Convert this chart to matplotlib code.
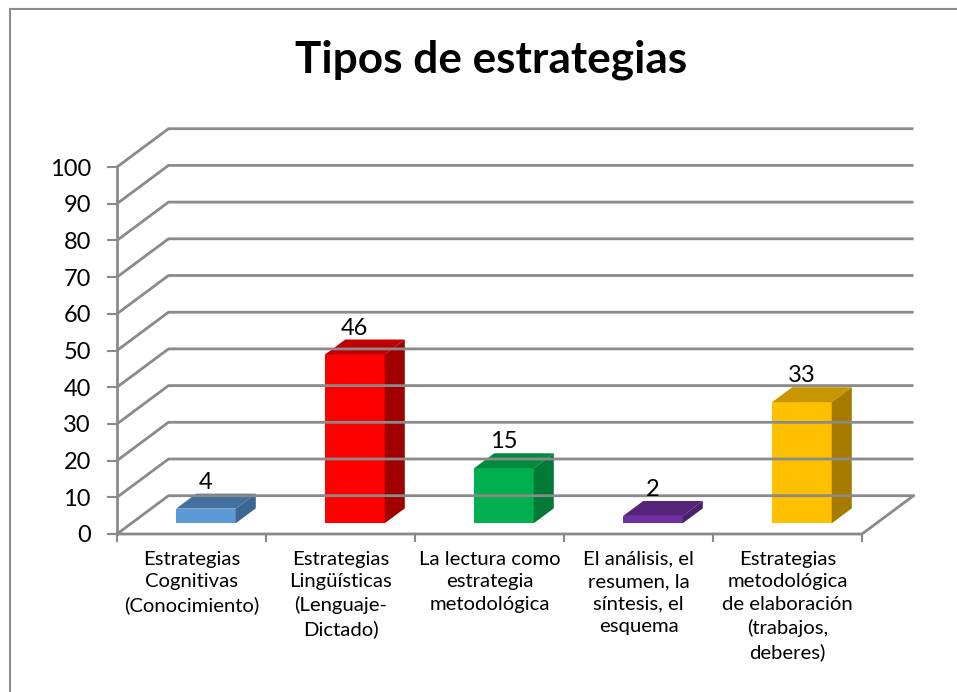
import matplotlib.pyplot as plt
from matplotlib.patches import Polygon, Rectangle

plt.rcParams['font.family'] = ['Lato', 'DejaVu Sans']

categories = ["Estrategias\nCognitivas\n(Conocimiento)",
              "Estrategias\nLingüísticas\n(Lenguaje-\nDictado)",
              "La lectura como\nestrategia\nmetodológica",
              "El análisis, el\nresumen, la\nsíntesis, el\nesquema",
              "Estrategias\nmetodológica\nde elaboración\n(trabajos,\ndeberes)"]
values = [4, 46, 15, 2, 33]
front_colors = ["#5B9BD5", "#FF0000", "#00B050", "#7030A0", "#FFC000"]
top_colors = ["#41719C", "#C00000", "#008A3E", "#55237A", "#C89600"]
side_colors = ["#3A6690", "#A00000", "#007A36", "#4A1F6B", "#A67C00"]
yticks = list(range(0, 101, 10))

# oblique 3D offset (depth 0 = front, 1 = back wall) in data units
DX = 51.5 / 149
DY = 38.3 / 3.67
d0, d1 = 0.28, 0.67
half_w = 0.2
grid_c = "#8a8a8a"


def proj(x, y, d):
    return x + d * DX, y + d * DY


fig = plt.figure(figsize=(9.57, 6.92), dpi=100)
ax = fig.add_axes([0, 0, 1, 1])
ax.set_xlim(-117 / 149, (957 - 117) / 149)
ax.set_ylim((534 - 692) / 3.67, 534 / 3.67)
ax.axis('off')

n = len(categories)

# walls / gridlines
for t in yticks:
    bx, by = proj(0, t, 1)
    ex, ey = proj(n, t, 1)
    ax.plot([0, bx, ex], [t, by, ey], color=grid_c, lw=2, solid_capstyle='butt')
    ax.plot([-0.06, 0], [t, t], color=grid_c, lw=1.5)
    ax.text(-0.1745, t, str(t), ha='right', va='center_baseline', fontsize=17)

ax.plot([0, 0], [0, 100], color=grid_c, lw=2)
rx, ry = proj(n, 0, 1)
ax.plot([0, n, rx], [0, 0, ry], color=grid_c, lw=2)
for i in range(n + 1):
    ax.plot([i, i], [0, -2], color=grid_c, lw=1.5)

# bars
for i, v in enumerate(values):
    c = i + 0.5
    xl, xr = c - half_w, c + half_w
    fl = proj(xl, 0, d0)
    fr = proj(xr, 0, d0)
    tl = proj(xl, v, d0)
    tr = proj(xr, v, d0)
    btl = proj(xl, v, d1)
    btr = proj(xr, v, d1)
    bbr = proj(xr, 0, d1)
    ax.add_patch(Polygon([fl, fr, tr, tl], closed=True, fc=front_colors[i], ec='none'))
    ax.add_patch(Polygon([tl, tr, btr, btl], closed=True, fc=top_colors[i], ec='none'))
    ax.add_patch(Polygon([fr, bbr, btr, tr], closed=True, fc=side_colors[i], ec='none'))
    lx, _ = proj(c, v, d0)
    _, ly = proj(c, v, d1)
    ax.text(lx, ly + 5 / 3.67, str(v), ha='center', va='baseline', fontsize=17)
    ax.text(c, -4.5, categories[i], ha='center', va='top', fontsize=14.6,
            linespacing=1.4)

fig.text(491 / 957, 1 - 60 / 692, "Tipos de estrategias", ha='center',
         va='center', fontsize=31.8, fontweight='bold')

fig.patches.append(Rectangle((10 / 957, -0.1), 1.2, 1.1 - 9 / 692, fill=False,
                             ec="#8c8c8c", lw=1.5, transform=fig.transFigure))

fig.savefig("out.png", dpi=100)
